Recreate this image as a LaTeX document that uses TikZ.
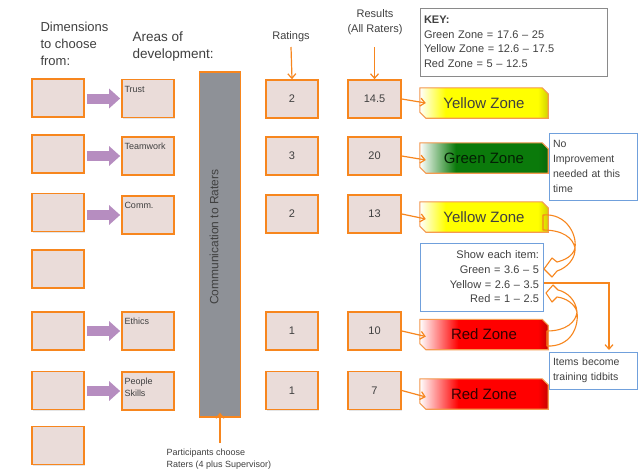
\documentclass[tikz,border=0pt]{standalone}
\usepackage{fontspec}
\setmainfont{Liberation Sans}
\usetikzlibrary{shadows,arrows.meta,calc,backgrounds}
\definecolor{boxfill}{HTML}{EADCD9}
\definecolor{boxline}{HTML}{F7861E}
\definecolor{banline}{HTML}{F59A50}
\definecolor{purp}{HTML}{B68DC0}
\definecolor{bargray}{HTML}{8E9197}
\definecolor{txt}{HTML}{404040}
\definecolor{keyline}{HTML}{8A8A8A}
\definecolor{blueline}{HTML}{70A0DC}
\definecolor{zgreen}{HTML}{0B7A0B}
\definecolor{zyellow}{HTML}{FFFF00}
\definecolor{zred}{HTML}{FF0000}
\pgfdeclarehorizontalshading{yelsh}{100bp}{color(0bp)=(white); color(25bp)=(white); color(35bp)=(zyellow); color(71bp)=(zyellow); color(75bp)=(zyellow!82!black); color(100bp)=(zyellow!82!black)}
\pgfdeclarehorizontalshading{grnsh}{100bp}{color(0bp)=(white); color(25bp)=(white); color(39bp)=(zgreen); color(71bp)=(zgreen); color(75bp)=(zgreen!85!black); color(100bp)=(zgreen!85!black)}
\pgfdeclarehorizontalshading{redsh}{100bp}{color(0bp)=(white); color(25bp)=(white); color(40bp)=(zred); color(71bp)=(zred); color(75bp)=(zred!78!black); color(100bp)=(zred!78!black)}
\newcommand\fsz[2]{\fontsize{#1}{#2}\selectfont}
\newcommand\areatxt[1]{\parbox[t][33pt][t]{47pt}{\raggedright\rule{0pt}{10pt}#1}}
\begin{document}
\begin{tikzpicture}[x=1pt,y=-1pt,
  every node/.style={text=txt},
  sh/.style={drop shadow={opacity=0.2,shadow xshift=1.2pt,shadow yshift=-1.2pt}},
  dimbox/.style={draw=boxline, line width=1.7pt, fill=boxfill, minimum width=52pt,
    minimum height=38pt, inner sep=0pt, sh},
  areabox/.style={dimbox, font=\fsz{9}{11.5}},
  numbox/.style={dimbox, font=\fsz{11}{13}},
  bannode/.style={minimum width=128pt, minimum height=30pt, inner sep=0pt, font=\fsz{15}{18}},
  bshape/.style={insert path={(#1.north west) -- ([xshift=-6pt]#1.north east) -- ([yshift=-6pt]#1.north east)
     -- (#1.south east) -- ([xshift=6pt]#1.south west) -- ([yshift=6pt]#1.south west) -- cycle}},
  purparrow/.style={draw=purp, line width=10pt, -{Triangle[length=11pt,width=19pt]}, shorten <=2pt},
  conn/.style={draw=boxline, line width=1.2pt, -{Straight Barb[length=4.5pt,width=8pt]}},
  curvarr/.style={draw=boxline, line width=1.1pt, line join=round},
  notebox/.style={draw=blueline, line width=1pt, fill=white, inner sep=0pt},
]
\useasboundingbox (0,0) rectangle (642,471);

% headings
\node[anchor=west, align=left, font=\fsz{13}{17}] (hdim) at (37,44) {Dimensions\\to choose\\from:};
\node[anchor=west, align=left, font=\fsz{13.5}{17}] (harea) at (129,46.5) {Areas of\\development:};
\node[font=\fsz{11}{14}] (hrat) at (291,37) {Ratings};
\node[align=center, font=\fsz{11}{15}] (hres) at (375,22.5) {Results\\(All Raters)};

% key
\node[draw=keyline, line width=0.9pt, fill=white, text width=180pt, minimum height=68pt,
  align=left, font=\fsz{11}{14.5}, inner sep=3.5pt] (key) at (514,42)
  {\textbf{KEY:}\\Green Zone = 17.6 -- 25\\Yellow Zone = 12.6 -- 17.5\\Red Zone = 5 -- 12.5};

% dimension boxes
\node[dimbox] (d1) at (58,98) {};
\node[dimbox] (d2) at (58,154) {};
\node[dimbox] (d3) at (58,212.5) {};
\node[dimbox] (d4) at (58,269) {};
\node[dimbox] (d5) at (58,331) {};
\node[dimbox] (d6) at (58,390.5) {};
\node[dimbox] (d7) at (58,445.5) {};

% areas
\node[areabox] (a1) at (148,98.5) {\areatxt{Trust}};
\node[areabox] (a2) at (148,156) {\areatxt{Teamwork}};
\node[areabox] (a3) at (148,215) {\areatxt{Comm.}};
\node[areabox] (a5) at (148,331) {\areatxt{Ethics}};
\node[areabox] (a6) at (148,391) {\areatxt{People\\Skills}};

\foreach \i in {1,2,3,5,6}{
  \draw[purparrow] (d\i.east |- a\i.west) -- ([xshift=-1pt]a\i.west);
}

% gray bar
\node[draw=boxline, line width=1.7pt, fill=bargray, minimum width=41pt, minimum height=345pt, inner sep=0pt] (bar) at (220,244.5) {};
\node[rotate=90, font=\fsz{12}{14}] (bartext) at (214,237) {Communication to Raters};
\node[anchor=west, align=left, font=\fsz{9}{12}] (part) at (163,459) {Participants choose\\Raters (4 plus Supervisor)};
\draw[conn] (bar.center |- 0,443) -- ([yshift=5pt]bar.south);

% ratings
\node[numbox] (r1) at (292,99) {2};
\node[numbox] (r2) at (292,156) {3};
\node[numbox] (r3) at (292,214) {2};
\node[numbox] (r5) at (292,331) {1};
\node[numbox] (r6) at (292,390.5) {1};
\draw[conn] (hrat.south |- 0,47) -- (r1.north);

% results
\node[numbox, minimum width=53pt] (s1) at (374.5,99) {14.5};
\node[numbox, minimum width=53pt] (s2) at (374.5,156) {20};
\node[numbox, minimum width=53pt] (s3) at (374.5,214) {13};
\node[numbox, minimum width=53pt] (s5) at (374.5,331) {10};
\node[numbox, minimum width=53pt] (s6) at (374.5,390.5) {7};
\draw[conn] (s1.north |- 0,47) -- (s1.north);

% banners
\node[bannode] (b1) at (484,103) {Yellow Zone};
\node[bannode, text={black!75!zgreen}] (b2) at (484,158) {Green Zone};
\node[bannode] (b3) at (484,217) {Yellow Zone};
\node[bannode, text={black!80!red}] (b5) at (484,334.5) {Red Zone};
\node[bannode, text={black!80!red}] (b6) at (484,394) {Red Zone};
\begin{scope}[on background layer]
  \fill[white] (0,0) rectangle (642,471);
  \foreach \n/\s in {b1/yelsh,b2/grnsh,b3/yelsh,b5/redsh,b6/redsh}{
    \fill[black, opacity=0.22, xshift=1.5pt, yshift=-1.5pt, bshape=\n];
    \path[draw=banline, line width=1.1pt, shading=\s, bshape=\n];
  }
\end{scope}

\draw[conn] (s1.east) -- ([xshift=6pt]b1.west);
\draw[conn] (s2.east) -- ([xshift=6pt,yshift=-2pt]b2.west);
\draw[conn] (s3.east) -- ([xshift=6pt,yshift=-2pt]b3.west);
\draw[conn] (s5.east) -- ([xshift=6pt,yshift=-2pt]b5.west);
\draw[conn] (s6.east) -- ([xshift=6pt,yshift=-3pt]b6.west);

% note boxes
\node[notebox, minimum width=88pt, minimum height=67pt, text width=80pt, align=left, font=\fsz{10.5}{15}] (noimp) at (593,166.5)
  {No\\Improvement\\needed at this\\time};
\node[notebox, minimum width=123pt, minimum height=68pt, text width=115pt, align=right, font=\fsz{11}{14.7}] (show) at (481.5,277)
  {Show each item:\\Green = 3.6 -- 5\\Yellow = 2.6 -- 3.5\\Red = 1 -- 2.5};
\node[notebox, minimum width=88pt, minimum height=37pt, text width=80pt, align=left, font=\fsz{10.5}{15}] (items) at (593,370.5)
  {Items become\\training tidbits};

\coordinate (yl) at (show.east |- 0,283);
\draw[conn] (yl) -| ([xshift=16pt,yshift=1.5pt]items.north);

% curved arrows
\draw[curvarr] (543,215) .. controls (566,213) and (577,234) .. (575,248)
  .. controls (573,256) and (565,260) .. (557,262) -- (552,258) -- (544,269) -- (552,277) -- (557,271)
  .. controls (567,268) and (576,258) .. (575,248)
  .. controls (573,238) and (563,230) .. (543,230) -- cycle;
\draw[curvarr] (547,346) .. controls (570,347) and (579,328) .. (577,312)
  .. controls (576,300) and (567,292) .. (558,290) -- (553,285) -- (546,293) -- (552,302) -- (557,297)
  .. controls (566,298) and (575,304) .. (577,312)
  .. controls (576,322) and (566,331) .. (547,331) -- cycle;
\end{tikzpicture}
\end{document}
